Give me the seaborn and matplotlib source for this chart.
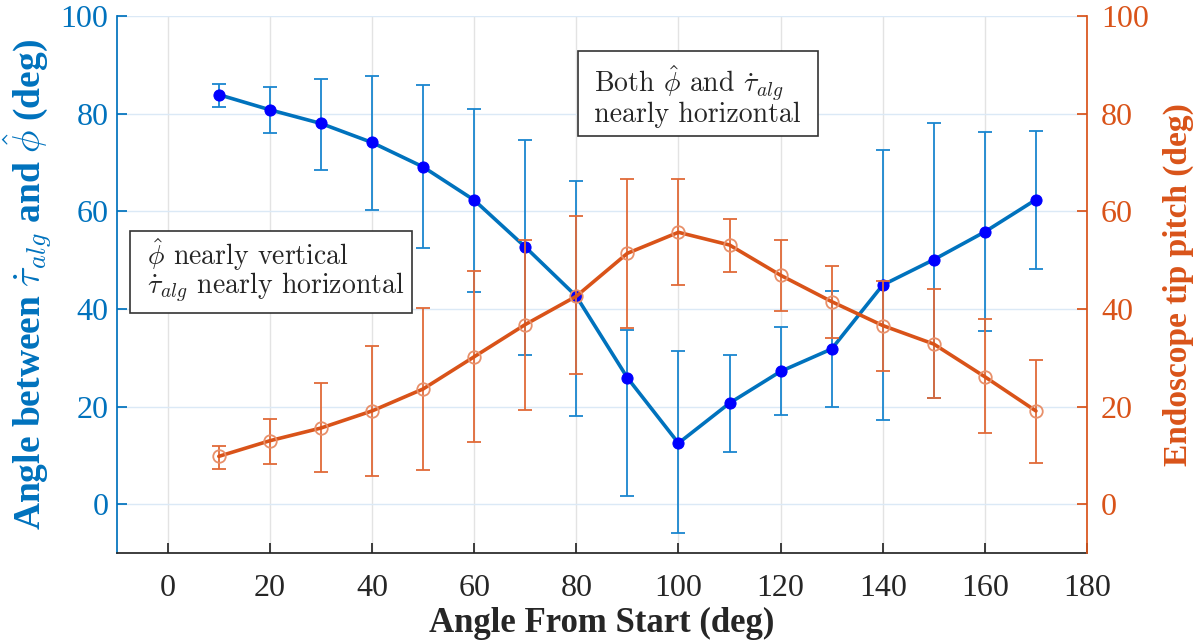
import numpy as np
import pandas as pd
import matplotlib
matplotlib.use("Agg")
import matplotlib.pyplot as plt
import seaborn as sns

# Angle from start (deg)
angles = [10, 20, 30, 40, 50, 60, 70, 80, 90, 100, 110, 120, 130, 140, 150, 160, 170]

# Angle between tau_alg and phi_hat (left axis): mean, bar top, bar bottom
ang_mean = [83.9, 80.8, 78.0, 74.1, 69.1, 62.3, 52.7, 42.6, 25.9, 12.5, 20.7, 27.2, 31.8, 44.9, 50.1, 55.8, 62.4]
ang_top = [86.1, 85.4, 87.2, 87.7, 85.8, 80.9, 74.7, 66.2, 35.7, 31.3, 30.6, 36.2, 43.7, 72.6, 78.0, 76.2, 76.4]
ang_bot = [81.3, 76.0, 68.5, 60.2, 52.4, 43.5, 30.6, 18.1, 1.7, -6.0, 10.7, 18.2, 19.9, 17.3, 21.7, 35.5, 48.1]

# Endoscope tip pitch (right axis): mean, bar top, bar bottom
pitch_mean = [9.8, 13.0, 15.6, 19.1, 23.6, 30.2, 36.8, 42.6, 51.4, 55.7, 53.1, 46.9, 41.5, 36.6, 32.8, 26.1, 19.1]
pitch_top = [12.0, 17.4, 24.9, 32.5, 40.1, 47.8, 54.1, 59.0, 66.7, 66.6, 58.5, 54.1, 48.8, 45.8, 44.0, 37.9, 29.5]
pitch_bot = [7.2, 8.2, 6.5, 5.7, 7.1, 12.8, 19.3, 26.7, 36.0, 44.9, 47.6, 39.6, 34.0, 27.2, 21.7, 14.6, 8.4]

BLUE = "#0072BD"
ORANGE = "#D95319"

sns.set_theme(style="white")
plt.rcParams["font.family"] = ["Liberation Serif", "DejaVu Serif"]
plt.rcParams["mathtext.fontset"] = "cm"

df = pd.DataFrame({"x": angles, "ang": ang_mean, "pitch": pitch_mean})

fig, ax = plt.subplots(figsize=(11.99, 6.43), dpi=100)
fig.subplots_adjust(left=0.0973, right=0.9066, top=0.975, bottom=0.14)
ax2 = ax.twinx()

# left series
a_mean = np.array(ang_mean)
ax.errorbar(angles, a_mean, yerr=[a_mean - np.array(ang_bot), np.array(ang_top) - a_mean],
            fmt="none", ecolor="#1a86cf", elinewidth=1.3, capsize=5, capthick=1.3, zorder=3)
sns.lineplot(data=df, x="x", y="ang", ax=ax, color=BLUE, linewidth=2.6, marker="o",
             markersize=8, markerfacecolor="#0000FF", markeredgecolor="#0000FF", zorder=4)

# right series
p_mean = np.array(pitch_mean)
ax2.errorbar(angles, p_mean, yerr=[p_mean - np.array(pitch_bot), np.array(pitch_top) - p_mean],
             fmt="none", ecolor="#e06a38", elinewidth=1.3, capsize=5, capthick=1.3, zorder=3)
sns.lineplot(data=df, x="x", y="pitch", ax=ax2, color=ORANGE, linewidth=2.6, marker="o",
             markersize=9, markerfacecolor="none", markeredgecolor="#E8906A", markeredgewidth=1.3, zorder=4)

ax.set_xlim(-10, 180)
ax.set_ylim(-10, 100)
ax2.set_ylim(-10, 100)
ax.set_xticks(np.arange(0, 181, 20))
ax.set_yticks(np.arange(0, 101, 20))
ax2.set_yticks(np.arange(0, 101, 20))

# grid
ax.grid(True, axis="x", color="#e3e3e3", linewidth=1)
ax.grid(True, axis="y", color="#dbe9f6", linewidth=1)
ax.set_axisbelow(True)

for a in (ax, ax2):
    a.spines["top"].set_visible(False)
ax.spines["left"].set_color(BLUE)
ax.spines["bottom"].set_color("#262626")
ax.spines["right"].set_visible(False)
ax2.spines["left"].set_visible(False)
ax2.spines["bottom"].set_visible(False)
ax2.spines["right"].set_color(ORANGE)

ax.tick_params(axis="y", direction="in", length=7, colors=BLUE, labelsize=23, left=True, pad=6)
ax.tick_params(axis="x", direction="in", length=7, colors="#262626", labelsize=23, bottom=True, pad=15)
ax2.tick_params(axis="y", direction="in", length=7, colors=ORANGE, labelsize=23, right=True, pad=10)

ax.set_xlabel("Angle From Start (deg)", fontsize=25, fontweight="bold", color="#262626", labelpad=3)
ax.set_ylabel(r"Angle between $\dot{\tau}_{alg}$ and $\hat{\phi}$ (deg)", fontsize=27,
              fontweight="bold", color=BLUE, labelpad=4)
ax2.set_ylabel("Endoscope tip pitch (deg)", fontsize=24, fontweight="bold", color=ORANGE, labelpad=10)

# annotation boxes (leading/trailing spaces give the wider side margins)
box = dict(boxstyle="square,pad=0.28", facecolor="white", edgecolor="#333333", linewidth=1.2)
ax2.text(-5.9, 47.9, " $\\hat{\\phi}$ nearly vertical \n $\\dot{\\tau}_{alg}$ nearly horizontal ",
         fontsize=20, family="cmr10", va="center", ha="left", bbox=box, zorder=6, linespacing=0.9)
ax2.text(81.8, 83.7, " Both $\\hat{\\phi}$ and $\\dot{\\tau}_{alg}$ \n nearly horizontal ",
         fontsize=20, family="cmr10", va="center", ha="left", bbox=box, zorder=6, linespacing=0.9)

fig.savefig("out.png", dpi=100)
